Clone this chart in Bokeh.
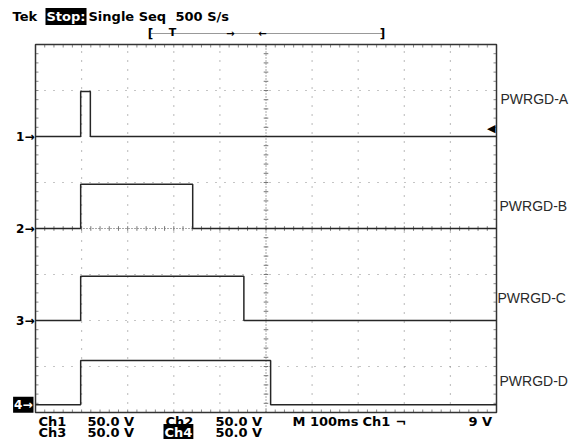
import numpy as np
from bokeh.plotting import figure
from bokeh.models import Label, Range1d
from bokeh.embed import file_html
from bokeh.resources import INLINE

# ---------------- data ----------------
channels = ["PWRGD-A", "PWRGD-B", "PWRGD-C", "PWRGD-D"]
ch_ids = ["1", "2", "3", "4"]
ground_div = [2.0, 0.0, -2.0, -3.83]      # ground marker, divisions from screen centre
rise_ms = [98, 98, 98, 98]                # rising edge time
fall_ms = [119, 341, 452, 510]            # falling edge time
high_v = [49, 48, 48, 48]                 # pulse amplitude (V)
label_y_v = [141, 24, -75, -166]          # vertical position of the right-hand names (V)
label_x_px = [500, 499, 497, 499]
volts_per_div = 50.0
ms_per_div = 100.0
n_xdiv, n_ydiv = 10, 8
trig_level_v = 9.0
t_end = ms_per_div * n_xdiv
v_half = volts_per_div * n_ydiv / 2

# ---------------- layout ----------------
W, H = 573, 439
FL, FT, FW, FH = 35, 44, 461, 368      # where the scope screen sits in the canvas
FB = FT + FH

def fx(px):          # canvas px -> ms
    return (px - FL) / FW * t_end

def fy(py):          # canvas px -> V
    return (FB - py) / FH * (2 * v_half) - v_half

p = figure(width=W, height=H, x_range=Range1d(fx(0), fx(W)), y_range=Range1d(fy(H), fy(0)),
           x_axis_location=None, y_axis_location=None, toolbar_location=None,
           title_location=None, output_backend="svg",
           min_border=0, min_border_left=0, min_border_right=0,
           min_border_top=0, min_border_bottom=0)
p.grid.visible = False
p.outline_line_color = None
p.background_fill_color = "white"
p.border_fill_color = "white"

# minor positions
xt = list(np.arange(0, t_end + 1, ms_per_div / 5))
yt = list(np.arange(-v_half, v_half + 1, volts_per_div / 5))
tick_x = 3 / FW * t_end          # 3 px in ms
tick_y = 3 / FH * 2 * v_half     # 3 px in V

# edge ticks (inside the screen)
p.segment(x0=xt, x1=xt, y0=[-v_half] * len(xt), y1=[-v_half + tick_y] * len(xt),
          line_color="#8a8a8a", line_width=1)
p.segment(x0=xt, x1=xt, y0=[v_half] * len(xt), y1=[v_half - tick_y] * len(xt),
          line_color="#8a8a8a", line_width=1)
p.segment(x0=[0] * len(yt), x1=[tick_x] * len(yt), y0=yt, y1=yt,
          line_color="#8a8a8a", line_width=1)
p.segment(x0=[t_end] * len(yt), x1=[t_end - tick_x] * len(yt), y0=yt, y1=yt,
          line_color="#8a8a8a", line_width=1)

# dotted graticule
gx = [ms_per_div * k for k in range(1, n_xdiv) if k != n_xdiv // 2]
gy = [volts_per_div * k for k in range(-3, 4) if k != 0]
p.segment(x0=gx, x1=gx, y0=[-v_half] * len(gx), y1=[v_half] * len(gx),
          line_color="#8a8a8a", line_dash="1 8", line_width=1.2)
p.segment(x0=[0] * len(gy), x1=[t_end] * len(gy), y0=gy, y1=gy,
          line_color="#8a8a8a", line_dash="1 8", line_width=1.2)
# centre lines, denser
p.segment(x0=[t_end / 2], x1=[t_end / 2], y0=[-v_half], y1=[v_half],
          line_color="#555555", line_dash="1 2", line_width=1)
p.segment(x0=[0], x1=[t_end], y0=[0], y1=[0],
          line_color="#555555", line_dash="1 2", line_width=1)
p.segment(x0=[t_end / 2 - 5] * len(yt), x1=[t_end / 2 + 5] * len(yt), y0=yt, y1=yt,
          line_color="#777777", line_width=1)
p.segment(x0=xt, x1=xt, y0=[-2.5] * len(xt), y1=[2.5] * len(xt),
          line_color="#777777", line_width=1)

# screen border
p.quad(left=[0], right=[t_end], bottom=[-v_half], top=[v_half], fill_color=None,
       line_color="#333333", line_width=1.5)

# traces
for i in range(4):
    base = ground_div[i] * volts_per_div
    xs = [0, rise_ms[i], rise_ms[i], fall_ms[i], fall_ms[i], t_end]
    ys = [base, base, base + high_v[i], base + high_v[i], base, base]
    p.line(xs, ys, line_color="#262626", line_width=1.5)

TF = "DejaVu Sans"

def lab(x, y, text, size="13px", bold=True, color="black", align="left", bg=None,
        font=TF, baseline="middle", pad=0):
    kw = {}
    if bg is not None:
        kw["background_fill_color"] = bg
        kw["padding"] = pad
    p.add_layout(Label(x=x, y=y, text=text, text_font=font, text_font_size=size,
                       text_font_style="bold" if bold else "normal", text_color=color,
                       text_align=align, text_baseline=baseline, **kw))

# ground markers
for i in range(4):
    base = ground_div[i] * volts_per_div
    if i == 3:
        lab(fx(33), base, ch_ids[i] + "\u2192", size="12px", color="white", align="right",
            bg="black", pad=1)
    else:
        lab(fx(34), base, ch_ids[i] + "\u2192", size="12px", align="right")

# trigger level arrow near the right edge
lab(fx(495), ground_div[0] * volts_per_div + trig_level_v, "\u25c0", size="11px",
    align="right")

# channel names
for i in range(4):
    lab(fx(label_x_px[i]), label_y_v[i], channels[i], size="14px", bold=False,
        color="#2a2a2a", font="Liberation Sans")

# header
lab(fx(12), fy(16), "Tek")
lab(fx(45), fy(16), "Stop:", color="white", bg="black", pad=1)
lab(fx(88), fy(16), "Single Seq")
lab(fx(175), fy(16), "500 S/s")
# record bar
p.segment(x0=[fx(151)], x1=[fx(382)], y0=[fy(33)], y1=[fy(33)],
          line_dash="1 1", line_color="#333333", line_width=1)
lab(fx(150), fy(33), "[", size="12px", align="center")
lab(fx(382), fy(33), "]", size="12px", align="center")
lab(fx(172), fy(32), "T", size="11px", align="center")
lab(fx(230), fy(33), "\u2192", size="10px", align="center")
lab(fx(262), fy(33), "\u2190", size="10px", align="center")

# bottom readout
r1, r2 = fy(421), fy(432)
lab(fx(38), r1, "Ch1")
lab(fx(87), r1, "50.0 V")
lab(fx(165), r1, "Ch2")
lab(fx(215), r1, "50.0 V")
lab(fx(292), r1, "M  100ms")
lab(fx(362), r1, "Ch1")
lab(fx(395), r1, "\u00ac")
lab(fx(468), r1, "9 V")
lab(fx(38), r2, "Ch3")
lab(fx(87), r2, "50.0 V")
lab(fx(163), r2, "Ch4", color="white", bg="black", pad=1)
lab(fx(215), r2, "50.0 V")

open("out.html", "w").write(file_html(p, INLINE))
